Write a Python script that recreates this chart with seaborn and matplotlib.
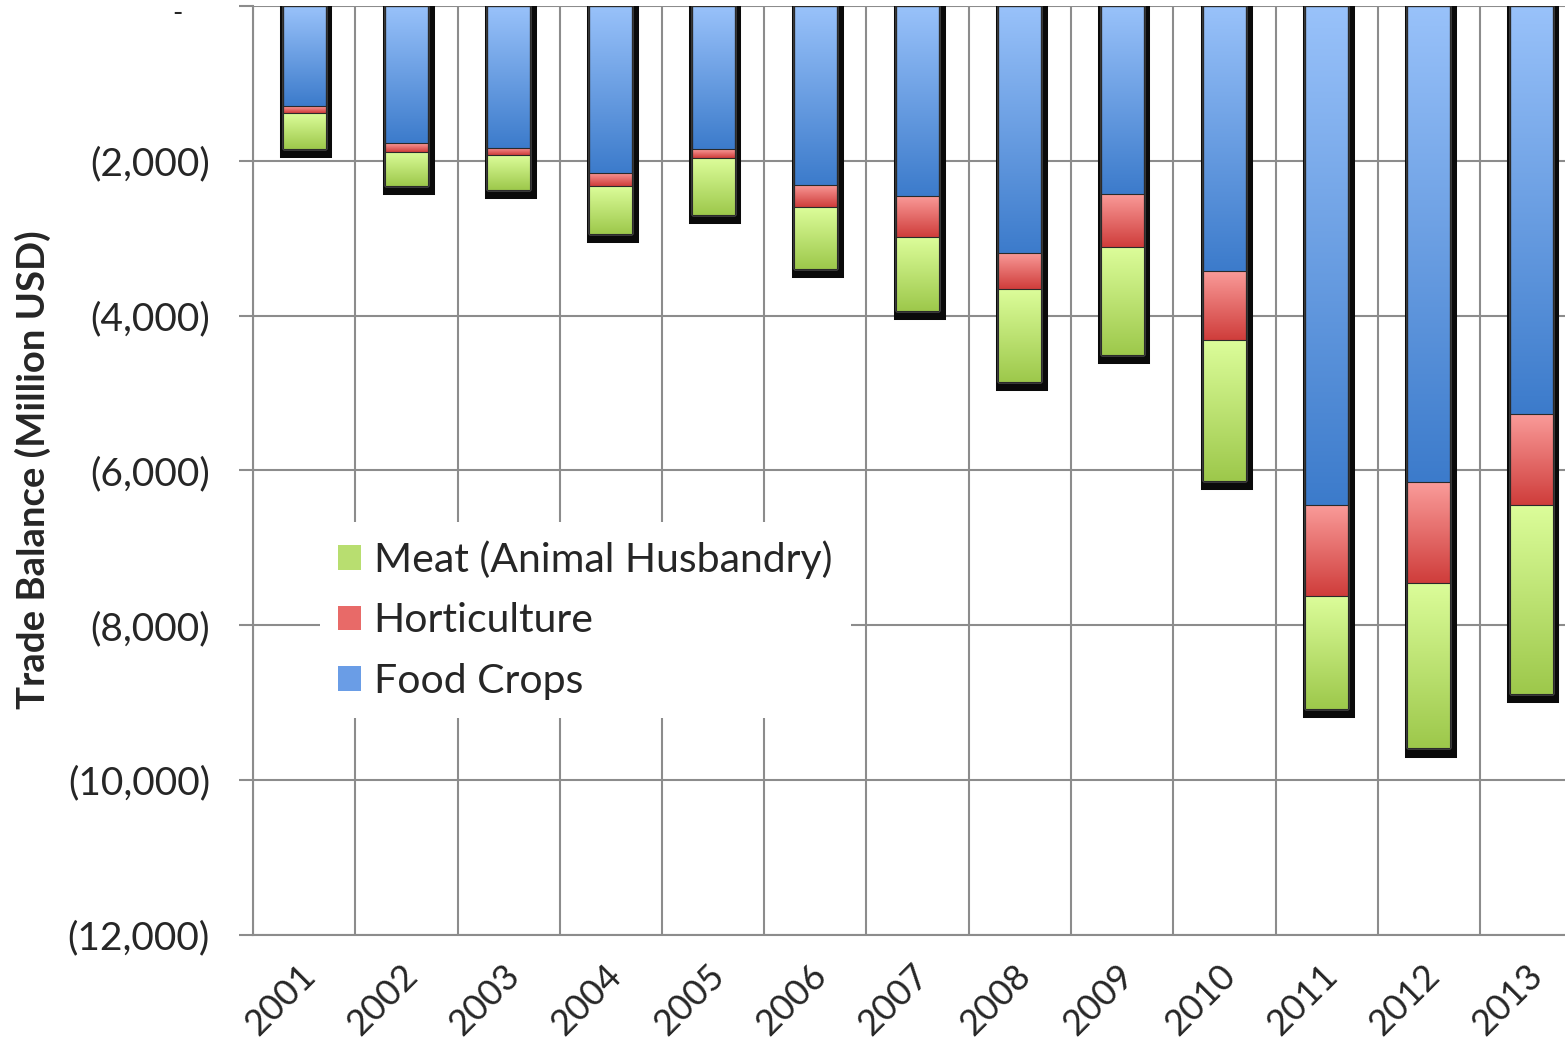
import numpy as np
import pandas as pd
import matplotlib
matplotlib.use("Agg")
import matplotlib.pyplot as plt
import matplotlib.patheffects as pe
import matplotlib.transforms as mtransforms
from matplotlib.colors import LinearSegmentedColormap
from matplotlib.patches import Patch
from matplotlib.ticker import FixedLocator, FuncFormatter
import seaborn as sns

# Data (million USD, trade balance, negative = deficit)
years = ["2001", "2002", "2003", "2004", "2005", "2006", "2007",
         "2008", "2009", "2010", "2011", "2012", "2013"]
food_crops = [-1290, -1770, -1830, -2155, -1845, -2310, -2450,
              -3185, -2425, -3420, -6440, -6155, -5265]
horticulture = [-90, -115, -100, -170, -115, -285, -530,
                -475, -685, -900, -1185, -1300, -1185]
meat = [-465, -440, -450, -620, -735, -800, -955,
        -1200, -1395, -1810, -1450, -2135, -2440]

df = pd.DataFrame({"year": years, "food": food_crops,
                   "hort": horticulture, "meat": meat})
df["fh"] = df["food"] + df["hort"]
df["total"] = df["fh"] + df["meat"]

sns.set_style("white")
plt.rcParams["font.family"] = ["Lato", "DejaVu Sans"]

W, H = 1565, 1049
fig = plt.figure(figsize=(W / 100, H / 100), dpi=100)
ax = fig.add_axes([253 / W, 1 - 935 / H, (W - 253) / W, (935 - 6) / H])

grid_c = "#8c8c8c"
bar_w = 0.42

# shadows
sns.barplot(data=df, x="year", y="total", color="#0a0a0a", width=bar_w,
            saturation=1, ax=ax, zorder=2)
for p in ax.containers[0]:
    p.set_path_effects([pe.Stroke(linewidth=6.5, foreground="#0a0a0a",
                                  offset=(1.2, -3)), pe.Normal()])

# stacked segments (cumulative, drawn deepest first)
gradients = {
    "meat": LinearSegmentedColormap.from_list("g", ["#dcfd9a", "#9dc84b"]),
    "hort": LinearSegmentedColormap.from_list("r", ["#fa9c9a", "#cf3d3b"]),
    "food": LinearSegmentedColormap.from_list("b", ["#99c2fa", "#3c7bcb"]),
}
layers = [("total", "fh", "meat"), ("fh", "food", "hort"), ("food", None, "food")]
grad = np.linspace(0, 1, 256).reshape(-1, 1)
for col, upper, key in layers:
    sns.barplot(data=df, x="year", y=col, color="white", width=bar_w,
                saturation=1, ax=ax, zorder=4)
    cont = ax.containers[-1]
    for i, p in enumerate(cont):
        p.set_facecolor("none")
        p.set_edgecolor("#2a2a2a")
        p.set_linewidth(0.8)
        top = 0 if upper is None else df[upper].iloc[i]
        bottom = df[col].iloc[i]
        x0 = p.get_x()
        ax.imshow(grad, cmap=gradients[key], aspect="auto", origin="upper",
                  extent=[x0, x0 + p.get_width(), bottom, top], zorder=3,
                  interpolation="bilinear")

ax.set_xlim(-0.5, -0.5 + (W - 253) / 102.25)
ax.set_ylim(-12000, 0)

# grid
ax.set_xticks(np.arange(len(years)))
ax.set_xticklabels(years)
ax.xaxis.set_minor_locator(FixedLocator(np.arange(-0.5, len(years), 1)))
ax.yaxis.set_major_locator(FixedLocator(np.arange(-12000, 1, 2000)))
ax.yaxis.set_major_formatter(FuncFormatter(
    lambda v, _: "" if v == 0 else "({:,.0f})".format(abs(v))))
ax.grid(axis="y", which="major", color=grid_c, lw=1.5)
ax.grid(axis="x", which="minor", color=grid_c, lw=1.5)
ax.grid(axis="x", which="major", visible=False)
ax.set_axisbelow(True)
for s in ["top", "right"]:
    ax.spines[s].set_visible(False)
for s in ["left", "bottom"]:
    ax.spines[s].set_color(grid_c)
    ax.spines[s].set_linewidth(1.5)

ax.tick_params(axis="y", which="major", length=10, width=1.5, color=grid_c,
               pad=21, labelsize=28, direction="out", left=True)
ax.tick_params(axis="x", which="major", length=0, pad=17, labelsize=26)
ax.tick_params(axis="x", which="minor", length=0)
shift = mtransforms.ScaledTranslation(-6 / 100, 0, fig.dpi_scale_trans)
for lab in ax.get_xticklabels():
    lab.set_rotation(45)
    lab.set_ha("right")
    lab.set_rotation_mode("anchor")
    lab.set_transform(lab.get_transform() + shift)
ax.set_xlabel("")
ax.set_ylabel("")

# zero label of the accounting format
fig.text(177 / W, 1 - 1 / H, "-", ha="center", va="top", fontsize=20)

fig.text(33 / W, 1 - 470 / H, "Trade Balance (Million USD)", rotation=90,
         ha="center", va="center", fontsize=27.5, fontweight="bold")

handles = [Patch(facecolor="#b8de70", edgecolor="none"),
           Patch(facecolor="#e86a68", edgecolor="none"),
           Patch(facecolor="#6a9de6", edgecolor="none")]
labels = ["Meat (Animal Husbandry)", "Horticulture", "Food Crops"]
leg = ax.legend(handles, labels, loc="upper left",
                bbox_to_anchor=(320 / W, 1 - 522 / H),
                bbox_transform=fig.transFigure, fontsize=29.5,
                frameon=True, framealpha=1, facecolor="white",
                edgecolor="none", fancybox=False, handlelength=0.54,
                handleheight=0.54, handletextpad=0.32, labelspacing=0.57,
                borderpad=0.45, borderaxespad=0)
leg.set_zorder(6)

fig.savefig("out.png", dpi=100)
